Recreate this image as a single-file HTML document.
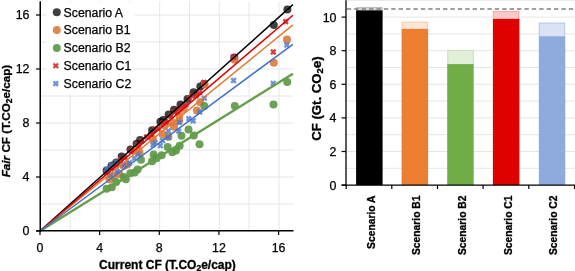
<!DOCTYPE html>
<html><head><meta charset="utf-8"><style>
html,body{margin:0;padding:0;background:#fff;}
svg{display:block;will-change:transform;}
.t{font-family:"Liberation Sans",sans-serif;font-size:12.4px;fill:#000;stroke:#000;stroke-width:0.25px;}
.l{font-family:"Liberation Sans",sans-serif;font-size:12.3px;fill:#000;stroke:#000;stroke-width:0.25px;}
.b{font-family:"Liberation Sans",sans-serif;font-size:12px;font-weight:bold;fill:#000;stroke:#000;stroke-width:0.3px;}
.c{font-family:"Liberation Sans",sans-serif;font-size:10.3px;font-weight:bold;fill:#000;stroke:#000;stroke-width:0.3px;}
.b2{font-family:"Liberation Sans",sans-serif;font-size:13.2px;font-weight:bold;fill:#000;stroke:#000;stroke-width:0.3px;}
</style></head><body>
<svg width="575" height="271" viewBox="0 0 575 271">
<rect width="575" height="271" fill="#fff"/>
<line x1="70.2" y1="1.3" x2="70.2" y2="231" stroke="#E6E6E6" stroke-width="1"/>
<line x1="40" y1="204.0" x2="293.5" y2="204.0" stroke="#E6E6E6" stroke-width="1"/>
<line x1="100.0" y1="1.3" x2="100.0" y2="231" stroke="#E6E6E6" stroke-width="1"/>
<line x1="40" y1="177.0" x2="293.5" y2="177.0" stroke="#E6E6E6" stroke-width="1"/>
<line x1="129.9" y1="1.3" x2="129.9" y2="231" stroke="#E6E6E6" stroke-width="1"/>
<line x1="40" y1="150.0" x2="293.5" y2="150.0" stroke="#E6E6E6" stroke-width="1"/>
<line x1="159.7" y1="1.3" x2="159.7" y2="231" stroke="#E6E6E6" stroke-width="1"/>
<line x1="40" y1="123.0" x2="293.5" y2="123.0" stroke="#E6E6E6" stroke-width="1"/>
<line x1="189.5" y1="1.3" x2="189.5" y2="231" stroke="#E6E6E6" stroke-width="1"/>
<line x1="40" y1="96.0" x2="293.5" y2="96.0" stroke="#E6E6E6" stroke-width="1"/>
<line x1="219.3" y1="1.3" x2="219.3" y2="231" stroke="#E6E6E6" stroke-width="1"/>
<line x1="40" y1="69.0" x2="293.5" y2="69.0" stroke="#E6E6E6" stroke-width="1"/>
<line x1="249.1" y1="1.3" x2="249.1" y2="231" stroke="#E6E6E6" stroke-width="1"/>
<line x1="40" y1="42.0" x2="293.5" y2="42.0" stroke="#E6E6E6" stroke-width="1"/>
<line x1="279.0" y1="1.3" x2="279.0" y2="231" stroke="#E6E6E6" stroke-width="1"/>
<line x1="40" y1="15.0" x2="293.5" y2="15.0" stroke="#E6E6E6" stroke-width="1"/>
<rect x="46.5" y="3" width="88" height="92" fill="#fff"/>
<circle cx="106.6" cy="170.5" r="4.0" fill="#000000" fill-opacity="0.75"/>
<circle cx="111.5" cy="165.8" r="4.0" fill="#000000" fill-opacity="0.75"/>
<circle cx="116.2" cy="162.6" r="4.0" fill="#000000" fill-opacity="0.75"/>
<circle cx="121.7" cy="156.5" r="4.0" fill="#000000" fill-opacity="0.75"/>
<circle cx="130.5" cy="149.6" r="4.0" fill="#000000" fill-opacity="0.75"/>
<circle cx="136.6" cy="143.8" r="4.0" fill="#000000" fill-opacity="0.75"/>
<circle cx="140.1" cy="140.0" r="4.0" fill="#000000" fill-opacity="0.75"/>
<circle cx="152.1" cy="130.2" r="4.0" fill="#000000" fill-opacity="0.75"/>
<circle cx="160.4" cy="121.8" r="4.0" fill="#000000" fill-opacity="0.75"/>
<circle cx="163.2" cy="120.1" r="4.0" fill="#000000" fill-opacity="0.75"/>
<circle cx="168.6" cy="114.5" r="4.0" fill="#000000" fill-opacity="0.75"/>
<circle cx="174.0" cy="109.7" r="4.0" fill="#000000" fill-opacity="0.75"/>
<circle cx="180.5" cy="104.6" r="4.0" fill="#000000" fill-opacity="0.75"/>
<circle cx="187.5" cy="99.1" r="4.0" fill="#000000" fill-opacity="0.75"/>
<circle cx="193.6" cy="92.3" r="4.0" fill="#000000" fill-opacity="0.75"/>
<circle cx="200.3" cy="86.5" r="4.0" fill="#000000" fill-opacity="0.75"/>
<circle cx="204.0" cy="84.0" r="4.0" fill="#000000" fill-opacity="0.75"/>
<circle cx="234.3" cy="57.5" r="4.0" fill="#000000" fill-opacity="0.75"/>
<circle cx="273.8" cy="24.9" r="4.0" fill="#000000" fill-opacity="0.75"/>
<circle cx="287.4" cy="9.6" r="4.0" fill="#000000" fill-opacity="0.75"/>
<circle cx="109.6" cy="179.2" r="4.0" fill="#DA7A3C" fill-opacity="0.9"/>
<circle cx="113.3" cy="176.2" r="4.0" fill="#DA7A3C" fill-opacity="0.9"/>
<circle cx="119.2" cy="174.0" r="4.0" fill="#DA7A3C" fill-opacity="0.9"/>
<circle cx="123.6" cy="165.9" r="4.0" fill="#DA7A3C" fill-opacity="0.9"/>
<circle cx="127.3" cy="164.4" r="4.0" fill="#DA7A3C" fill-opacity="0.9"/>
<circle cx="133.7" cy="150.8" r="4.0" fill="#DA7A3C" fill-opacity="0.9"/>
<circle cx="137.5" cy="147.5" r="4.0" fill="#DA7A3C" fill-opacity="0.9"/>
<circle cx="139.5" cy="152.6" r="4.0" fill="#DA7A3C" fill-opacity="0.9"/>
<circle cx="152.9" cy="139.0" r="4.0" fill="#DA7A3C" fill-opacity="0.9"/>
<circle cx="162.5" cy="133.9" r="4.0" fill="#DA7A3C" fill-opacity="0.9"/>
<circle cx="168.4" cy="136.8" r="4.0" fill="#DA7A3C" fill-opacity="0.9"/>
<circle cx="164.4" cy="125.3" r="4.0" fill="#DA7A3C" fill-opacity="0.9"/>
<circle cx="171.8" cy="122.3" r="4.0" fill="#DA7A3C" fill-opacity="0.9"/>
<circle cx="174.0" cy="126.7" r="4.0" fill="#DA7A3C" fill-opacity="0.9"/>
<circle cx="179.2" cy="115.7" r="4.0" fill="#DA7A3C" fill-opacity="0.9"/>
<circle cx="179.2" cy="120.8" r="4.0" fill="#DA7A3C" fill-opacity="0.9"/>
<circle cx="183.6" cy="109.0" r="4.0" fill="#DA7A3C" fill-opacity="0.9"/>
<circle cx="196.9" cy="110.5" r="4.0" fill="#DA7A3C" fill-opacity="0.9"/>
<circle cx="200.3" cy="102.3" r="4.0" fill="#DA7A3C" fill-opacity="0.9"/>
<circle cx="204.6" cy="84.6" r="4.0" fill="#DA7A3C" fill-opacity="0.9"/>
<circle cx="234.5" cy="59.8" r="4.0" fill="#DA7A3C" fill-opacity="0.9"/>
<circle cx="273.8" cy="62.7" r="4.0" fill="#DA7A3C" fill-opacity="0.9"/>
<circle cx="287.0" cy="39.4" r="4.0" fill="#DA7A3C" fill-opacity="0.9"/>
<circle cx="106.6" cy="188.8" r="4.0" fill="#5A9646" fill-opacity="0.9"/>
<circle cx="111.8" cy="187.3" r="4.0" fill="#5A9646" fill-opacity="0.9"/>
<circle cx="116.2" cy="182.1" r="4.0" fill="#5A9646" fill-opacity="0.9"/>
<circle cx="123.6" cy="177.0" r="4.0" fill="#5A9646" fill-opacity="0.9"/>
<circle cx="125.8" cy="179.2" r="4.0" fill="#5A9646" fill-opacity="0.9"/>
<circle cx="130.3" cy="173.3" r="4.0" fill="#5A9646" fill-opacity="0.9"/>
<circle cx="134.7" cy="172.5" r="4.0" fill="#5A9646" fill-opacity="0.9"/>
<circle cx="137.6" cy="169.6" r="4.0" fill="#5A9646" fill-opacity="0.9"/>
<circle cx="141.0" cy="159.8" r="4.0" fill="#5A9646" fill-opacity="0.9"/>
<circle cx="152.1" cy="161.2" r="4.0" fill="#5A9646" fill-opacity="0.9"/>
<circle cx="153.6" cy="154.5" r="4.0" fill="#5A9646" fill-opacity="0.9"/>
<circle cx="156.6" cy="158.2" r="4.0" fill="#5A9646" fill-opacity="0.9"/>
<circle cx="161.7" cy="155.3" r="4.0" fill="#5A9646" fill-opacity="0.9"/>
<circle cx="167.6" cy="147.1" r="4.0" fill="#5A9646" fill-opacity="0.9"/>
<circle cx="172.3" cy="152.3" r="4.0" fill="#5A9646" fill-opacity="0.9"/>
<circle cx="176.0" cy="150.4" r="4.0" fill="#5A9646" fill-opacity="0.9"/>
<circle cx="179.7" cy="145.8" r="4.0" fill="#5A9646" fill-opacity="0.9"/>
<circle cx="181.5" cy="135.7" r="4.0" fill="#5A9646" fill-opacity="0.9"/>
<circle cx="188.5" cy="129.5" r="4.0" fill="#5A9646" fill-opacity="0.9"/>
<circle cx="193.8" cy="135.5" r="4.0" fill="#5A9646" fill-opacity="0.9"/>
<circle cx="199.5" cy="144.3" r="4.0" fill="#5A9646" fill-opacity="0.9"/>
<circle cx="204.3" cy="106.0" r="4.0" fill="#5A9646" fill-opacity="0.9"/>
<circle cx="234.8" cy="106.0" r="4.0" fill="#5A9646" fill-opacity="0.9"/>
<circle cx="273.5" cy="104.5" r="4.0" fill="#5A9646" fill-opacity="0.9"/>
<circle cx="287.2" cy="82.1" r="4.0" fill="#5A9646" fill-opacity="0.9"/>
<path d="M104.3 171.0L108.9 175.6M104.3 175.6L108.9 171.0" stroke="#D42A2A" stroke-width="2.4" stroke-opacity="0.9"/>
<path d="M109.2 166.2L113.8 170.8M109.2 170.8L113.8 166.2" stroke="#D42A2A" stroke-width="2.4" stroke-opacity="0.9"/>
<path d="M113.9 163.4L118.5 168.0M113.9 168.0L118.5 163.4" stroke="#D42A2A" stroke-width="2.4" stroke-opacity="0.9"/>
<path d="M118.2 157.3L122.8 161.9M118.2 161.9L122.8 157.3" stroke="#D42A2A" stroke-width="2.4" stroke-opacity="0.9"/>
<path d="M122.7 155.3L127.3 159.9M122.7 159.9L127.3 155.3" stroke="#D42A2A" stroke-width="2.4" stroke-opacity="0.9"/>
<path d="M128.7 148.5L133.3 153.1M128.7 153.1L133.3 148.5" stroke="#D42A2A" stroke-width="2.4" stroke-opacity="0.9"/>
<path d="M135.4 142.1L140.0 146.7M135.4 146.7L140.0 142.1" stroke="#D42A2A" stroke-width="2.4" stroke-opacity="0.9"/>
<path d="M139.3 138.6L143.9 143.2M139.3 143.2L143.9 138.6" stroke="#D42A2A" stroke-width="2.4" stroke-opacity="0.9"/>
<path d="M144.3 134.6L148.9 139.2M144.3 139.2L148.9 134.6" stroke="#D42A2A" stroke-width="2.4" stroke-opacity="0.9"/>
<path d="M148.7 131.9L153.3 136.5M148.7 136.5L153.3 131.9" stroke="#D42A2A" stroke-width="2.4" stroke-opacity="0.9"/>
<path d="M152.7 126.7L157.3 131.3M152.7 131.3L157.3 126.7" stroke="#D42A2A" stroke-width="2.4" stroke-opacity="0.9"/>
<path d="M160.7 120.6L165.3 125.2M160.7 125.2L165.3 120.6" stroke="#D42A2A" stroke-width="2.4" stroke-opacity="0.9"/>
<path d="M168.8 113.5L173.4 118.1M168.8 118.1L173.4 113.5" stroke="#D42A2A" stroke-width="2.4" stroke-opacity="0.9"/>
<path d="M172.5 109.5L177.1 114.1M172.5 114.1L177.1 109.5" stroke="#D42A2A" stroke-width="2.4" stroke-opacity="0.9"/>
<path d="M176.9 106.0L181.5 110.6M176.9 110.6L181.5 106.0" stroke="#D42A2A" stroke-width="2.4" stroke-opacity="0.9"/>
<path d="M186.9 95.8L191.5 100.4M186.9 100.4L191.5 95.8" stroke="#D42A2A" stroke-width="2.4" stroke-opacity="0.9"/>
<path d="M189.4 93.6L194.0 98.2M189.4 98.2L194.0 93.6" stroke="#D42A2A" stroke-width="2.4" stroke-opacity="0.9"/>
<path d="M197.2 90.4L201.8 95.0M197.2 95.0L201.8 90.4" stroke="#D42A2A" stroke-width="2.4" stroke-opacity="0.9"/>
<path d="M201.6 80.1L206.2 84.7M201.6 84.7L206.2 80.1" stroke="#D42A2A" stroke-width="2.4" stroke-opacity="0.9"/>
<path d="M231.1 54.6L235.7 59.2M231.1 59.2L235.7 54.6" stroke="#D42A2A" stroke-width="2.4" stroke-opacity="0.9"/>
<path d="M271.0 49.7L275.6 54.3M271.0 54.3L275.6 49.7" stroke="#D42A2A" stroke-width="2.4" stroke-opacity="0.9"/>
<path d="M283.4 19.3L288.0 23.9M283.4 23.9L288.0 19.3" stroke="#D42A2A" stroke-width="2.4" stroke-opacity="0.9"/>
<path d="M155.7 126.0L160.3 130.6M155.7 130.6L160.3 126.0" stroke="#D42A2A" stroke-width="2.4" stroke-opacity="0.9"/>
<path d="M163.7 119.7L168.3 124.3M163.7 124.3L168.3 119.7" stroke="#D42A2A" stroke-width="2.4" stroke-opacity="0.9"/>
<path d="M174.7 109.4L179.3 114.0M174.7 114.0L179.3 109.4" stroke="#D42A2A" stroke-width="2.4" stroke-opacity="0.9"/>
<path d="M180.7 103.6L185.3 108.2M180.7 108.2L185.3 103.6" stroke="#D42A2A" stroke-width="2.4" stroke-opacity="0.9"/>
<path d="M183.7 102.4L188.3 107.0M183.7 107.0L188.3 102.4" stroke="#D42A2A" stroke-width="2.4" stroke-opacity="0.9"/>
<path d="M193.7 93.2L198.3 97.8M193.7 97.8L198.3 93.2" stroke="#D42A2A" stroke-width="2.4" stroke-opacity="0.9"/>
<path d="M104.3 166.9L108.9 171.5M104.3 171.5L108.9 166.9" stroke="#4A78C8" stroke-width="2.4" stroke-opacity="0.8"/>
<path d="M109.2 162.9L113.8 167.5M109.2 167.5L113.8 162.9" stroke="#4A78C8" stroke-width="2.4" stroke-opacity="0.8"/>
<path d="M114.2 159.5L118.8 164.1M114.2 164.1L118.8 159.5" stroke="#4A78C8" stroke-width="2.4" stroke-opacity="0.8"/>
<path d="M108.0 172.5L112.6 177.1M108.0 177.1L112.6 172.5" stroke="#4A78C8" stroke-width="2.4" stroke-opacity="0.8"/>
<path d="M114.7 168.8L119.3 173.4M114.7 173.4L119.3 168.8" stroke="#4A78C8" stroke-width="2.4" stroke-opacity="0.8"/>
<path d="M121.3 162.9L125.9 167.5M121.3 167.5L125.9 162.9" stroke="#4A78C8" stroke-width="2.4" stroke-opacity="0.8"/>
<path d="M127.2 160.7L131.8 165.3M127.2 165.3L131.8 160.7" stroke="#4A78C8" stroke-width="2.4" stroke-opacity="0.8"/>
<path d="M132.1 155.9L136.7 160.5M132.1 160.5L136.7 155.9" stroke="#4A78C8" stroke-width="2.4" stroke-opacity="0.8"/>
<path d="M135.8 151.5L140.4 156.1M135.8 156.1L140.4 151.5" stroke="#4A78C8" stroke-width="2.4" stroke-opacity="0.8"/>
<path d="M150.6 142.6L155.2 147.2M150.6 147.2L155.2 142.6" stroke="#4A78C8" stroke-width="2.4" stroke-opacity="0.8"/>
<path d="M152.8 140.4L157.4 145.0M152.8 145.0L157.4 140.4" stroke="#4A78C8" stroke-width="2.4" stroke-opacity="0.8"/>
<path d="M158.0 143.4L162.6 148.0M158.0 148.0L162.6 143.4" stroke="#4A78C8" stroke-width="2.4" stroke-opacity="0.8"/>
<path d="M160.2 138.2L164.8 142.8M160.2 142.8L164.8 138.2" stroke="#4A78C8" stroke-width="2.4" stroke-opacity="0.8"/>
<path d="M166.1 128.7L170.7 133.3M166.1 133.3L170.7 128.7" stroke="#4A78C8" stroke-width="2.4" stroke-opacity="0.8"/>
<path d="M166.3 135.2L170.9 139.8M166.3 139.8L170.9 135.2" stroke="#4A78C8" stroke-width="2.4" stroke-opacity="0.8"/>
<path d="M176.4 128.8L181.0 133.4M176.4 133.4L181.0 128.8" stroke="#4A78C8" stroke-width="2.4" stroke-opacity="0.8"/>
<path d="M176.9 120.0L181.5 124.6M176.9 124.6L181.5 120.0" stroke="#4A78C8" stroke-width="2.4" stroke-opacity="0.8"/>
<path d="M186.5 116.3L191.1 120.9M186.5 120.9L191.1 116.3" stroke="#4A78C8" stroke-width="2.4" stroke-opacity="0.8"/>
<path d="M190.9 118.5L195.5 123.1M190.9 123.1L195.5 118.5" stroke="#4A78C8" stroke-width="2.4" stroke-opacity="0.8"/>
<path d="M197.5 109.7L202.1 114.3M197.5 114.3L202.1 109.7" stroke="#4A78C8" stroke-width="2.4" stroke-opacity="0.8"/>
<path d="M202.0 95.9L206.6 100.5M202.0 100.5L206.6 95.9" stroke="#4A78C8" stroke-width="2.4" stroke-opacity="0.8"/>
<path d="M231.3 78.2L235.9 82.8M231.3 82.8L235.9 78.2" stroke="#4A78C8" stroke-width="2.4" stroke-opacity="0.8"/>
<path d="M270.9 81.0L275.5 85.6M270.9 85.6L275.5 81.0" stroke="#4A78C8" stroke-width="2.4" stroke-opacity="0.8"/>
<path d="M284.5 42.7L289.1 47.3M284.5 47.3L289.1 42.7" stroke="#4A78C8" stroke-width="2.4" stroke-opacity="0.8"/>
<line x1="40" y1="231" x2="292.9" y2="4.65" stroke="#000000" stroke-width="1.5"/>
<line x1="40" y1="231" x2="292.9" y2="24.9" stroke="#E47B34" stroke-width="1.5"/>
<line x1="40" y1="231" x2="292.9" y2="73.7" stroke="#649E48" stroke-width="2.4"/>
<line x1="40" y1="231" x2="292.9" y2="15.3" stroke="#D40000" stroke-width="1.5"/>
<line x1="40" y1="231" x2="292.9" y2="44.3" stroke="#4472C4" stroke-width="1.5"/>
<line x1="40.25" y1="1.3" x2="40.25" y2="231.5" stroke="#000" stroke-width="1.5"/>
<line x1="36.3" y1="230.75" x2="293.5" y2="230.75" stroke="#000" stroke-width="1.5"/>
<line x1="36" y1="231.0" x2="40" y2="231.0" stroke="#000" stroke-width="1.2"/>
<line x1="40.0" y1="231" x2="40.0" y2="235" stroke="#000" stroke-width="1.2"/>
<text x="29.5" y="235.1" text-anchor="end" class="t">0</text>
<text x="40.0" y="251.7" text-anchor="middle" class="t">0</text>
<line x1="36" y1="177.0" x2="40" y2="177.0" stroke="#000" stroke-width="1.2"/>
<line x1="99.6" y1="231" x2="99.6" y2="235" stroke="#000" stroke-width="1.2"/>
<text x="29.5" y="181.1" text-anchor="end" class="t">4</text>
<text x="99.6" y="251.7" text-anchor="middle" class="t">4</text>
<line x1="36" y1="123.0" x2="40" y2="123.0" stroke="#000" stroke-width="1.2"/>
<line x1="159.3" y1="231" x2="159.3" y2="235" stroke="#000" stroke-width="1.2"/>
<text x="29.5" y="127.1" text-anchor="end" class="t">8</text>
<text x="159.3" y="251.7" text-anchor="middle" class="t">8</text>
<line x1="36" y1="69.0" x2="40" y2="69.0" stroke="#000" stroke-width="1.2"/>
<line x1="218.9" y1="231" x2="218.9" y2="235" stroke="#000" stroke-width="1.2"/>
<text x="29.5" y="73.1" text-anchor="end" class="t">12</text>
<text x="218.9" y="251.7" text-anchor="middle" class="t">12</text>
<line x1="36" y1="15.0" x2="40" y2="15.0" stroke="#000" stroke-width="1.2"/>
<line x1="278.6" y1="231" x2="278.6" y2="235" stroke="#000" stroke-width="1.2"/>
<text x="29.5" y="19.1" text-anchor="end" class="t">16</text>
<text x="278.6" y="251.7" text-anchor="middle" class="t">16</text>
<text x="167.5" y="268.5" text-anchor="middle" class="b">Current CF (T.CO<tspan font-size="8.5" dy="2">2</tspan><tspan dy="-2">e/cap)</tspan></text>
<text transform="translate(10,121) rotate(-90)" text-anchor="middle" class="b" style="font-size:11.7px"><tspan font-style="italic">Fair</tspan> CF (T.CO<tspan font-size="8.5" dy="2">2</tspan><tspan dy="-2">e/cap)</tspan></text>
<circle cx="56.8" cy="12.2" r="4.0" fill="#000000" fill-opacity="0.75"/>
<text x="63.6" y="16.5" class="l">Scenario A</text>
<circle cx="56.8" cy="30.1" r="4.0" fill="#DA7A3C" fill-opacity="0.9"/>
<text x="63.6" y="34.4" class="l">Scenario B1</text>
<circle cx="56.8" cy="47.9" r="4.0" fill="#5A9646" fill-opacity="0.9"/>
<text x="63.6" y="52.2" class="l">Scenario B2</text>
<path d="M53.5 63.5L58.1 68.0M53.5 68.0L58.1 63.5" stroke="#D42A2A" stroke-width="2.4" stroke-opacity="0.9"/>
<text x="63.6" y="70.0" class="l">Scenario C1</text>
<path d="M53.5 81.3L58.1 85.9M53.5 85.9L58.1 81.3" stroke="#4A78C8" stroke-width="2.4" stroke-opacity="0.8"/>
<text x="63.6" y="87.9" class="l">Scenario C2</text>
<line x1="346" y1="168.3" x2="575" y2="168.3" stroke="#E6E6E6" stroke-width="1"/>
<line x1="346" y1="151.5" x2="575" y2="151.5" stroke="#E6E6E6" stroke-width="1"/>
<line x1="346" y1="134.7" x2="575" y2="134.7" stroke="#E6E6E6" stroke-width="1"/>
<line x1="346" y1="117.9" x2="575" y2="117.9" stroke="#E6E6E6" stroke-width="1"/>
<line x1="346" y1="101.1" x2="575" y2="101.1" stroke="#E6E6E6" stroke-width="1"/>
<line x1="346" y1="84.3" x2="575" y2="84.3" stroke="#E6E6E6" stroke-width="1"/>
<line x1="346" y1="67.5" x2="575" y2="67.5" stroke="#E6E6E6" stroke-width="1"/>
<line x1="346" y1="50.7" x2="575" y2="50.7" stroke="#E6E6E6" stroke-width="1"/>
<line x1="346" y1="33.9" x2="575" y2="33.9" stroke="#E6E6E6" stroke-width="1"/>
<line x1="346" y1="17.1" x2="575" y2="17.1" stroke="#E6E6E6" stroke-width="1"/>
<line x1="346" y1="0.3" x2="575" y2="0.3" stroke="#E6E6E6" stroke-width="1"/>
<rect x="356.6" y="7.5" width="25.5" height="3.4" fill="#D9D9D9" stroke="#BFBFBF" stroke-width="1"/>
<rect x="356.1" y="10.4" width="26.5" height="174.7" fill="#000000"/>
<rect x="402.1" y="22.1" width="25.5" height="7.2" fill="#FBE5D6" stroke="#F8CBAD" stroke-width="1"/>
<rect x="401.6" y="28.9" width="26.5" height="156.2" fill="#ED7D31"/>
<rect x="447.8" y="50.4" width="25.5" height="14.3" fill="#E2F0D9" stroke="#C5E0B4" stroke-width="1"/>
<rect x="447.2" y="64.1" width="26.5" height="121.0" fill="#70AD47"/>
<rect x="493.4" y="11.6" width="25.5" height="7.9" fill="#FFC9C9" stroke="#FF9F9F" stroke-width="1"/>
<rect x="492.9" y="18.9" width="26.5" height="166.2" fill="#E00000"/>
<rect x="539.2" y="23.1" width="25.5" height="13.8" fill="#DAE3F3" stroke="#B4C7E7" stroke-width="1"/>
<rect x="538.8" y="36.4" width="26.5" height="148.7" fill="#8FAADC"/>
<line x1="346.8" y1="9.0" x2="575" y2="9.0" stroke="#808080" stroke-width="1.5" stroke-dasharray="4.4 3"/>
<line x1="346" y1="0.3" x2="346" y2="185.6" stroke="#000" stroke-width="1.3"/>
<line x1="341.5" y1="185.1" x2="575" y2="185.1" stroke="#000" stroke-width="1.3"/>
<line x1="341.6" y1="185.1" x2="346" y2="185.1" stroke="#000" stroke-width="1.2"/>
<text x="336.5" y="189.6" text-anchor="end" class="t">0</text>
<line x1="341.6" y1="151.5" x2="346" y2="151.5" stroke="#000" stroke-width="1.2"/>
<text x="336.5" y="156.0" text-anchor="end" class="t">2</text>
<line x1="341.6" y1="117.9" x2="346" y2="117.9" stroke="#000" stroke-width="1.2"/>
<text x="336.5" y="122.4" text-anchor="end" class="t">4</text>
<line x1="341.6" y1="84.3" x2="346" y2="84.3" stroke="#000" stroke-width="1.2"/>
<text x="336.5" y="88.8" text-anchor="end" class="t">6</text>
<line x1="341.6" y1="50.7" x2="346" y2="50.7" stroke="#000" stroke-width="1.2"/>
<text x="336.5" y="55.2" text-anchor="end" class="t">8</text>
<line x1="341.6" y1="17.1" x2="346" y2="17.1" stroke="#000" stroke-width="1.2"/>
<text x="336.5" y="21.6" text-anchor="end" class="t">10</text>
<line x1="346.2" y1="185.1" x2="346.2" y2="189" stroke="#000" stroke-width="1.2"/>
<line x1="391.8" y1="185.1" x2="391.8" y2="189" stroke="#000" stroke-width="1.2"/>
<line x1="437.5" y1="185.1" x2="437.5" y2="189" stroke="#000" stroke-width="1.2"/>
<line x1="483.1" y1="185.1" x2="483.1" y2="189" stroke="#000" stroke-width="1.2"/>
<line x1="528.8" y1="185.1" x2="528.8" y2="189" stroke="#000" stroke-width="1.2"/>
<line x1="574.5" y1="185.1" x2="574.5" y2="189" stroke="#000" stroke-width="1.2"/>
<text transform="translate(374.7,195.5) rotate(-90)" text-anchor="end" class="c">Scenario A</text>
<text transform="translate(420.3,195.5) rotate(-90)" text-anchor="end" class="c">Scenario B1</text>
<text transform="translate(466.0,195.5) rotate(-90)" text-anchor="end" class="c">Scenario B2</text>
<text transform="translate(511.6,195.5) rotate(-90)" text-anchor="end" class="c">Scenario C1</text>
<text transform="translate(557.3,195.5) rotate(-90)" text-anchor="end" class="c">Scenario C2</text>
<text transform="translate(320.5,98.6) rotate(-90)" text-anchor="middle" class="b2">CF (Gt. CO<tspan font-size="9.5" dy="2">2</tspan><tspan dy="-2">e)</tspan></text>
</svg></body></html>
